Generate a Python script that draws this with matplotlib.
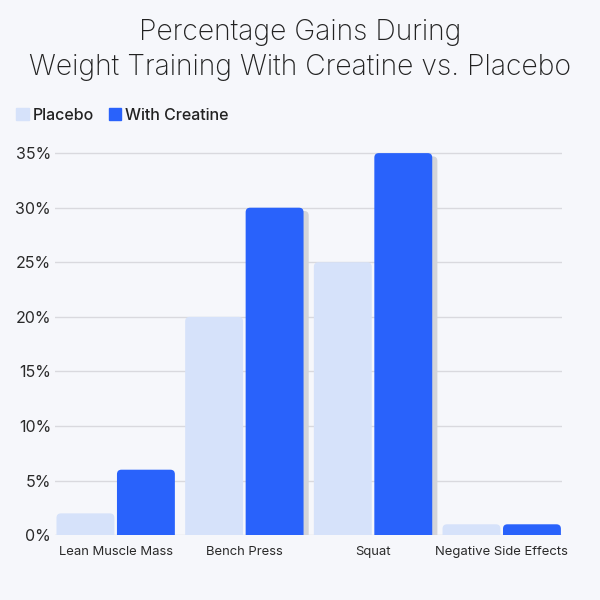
import matplotlib.pyplot as plt
from matplotlib.patches import FancyBboxPatch, Patch
import numpy as np

categories = ['Lean Muscle Mass', 'Bench Press', 'Squat', 'Negative Side Effects']
placebo = [2, 20, 25, 1]
creatine = [6, 30, 35, 1]
yticks = [0, 5, 10, 15, 20, 25, 30, 35]

bg = '#f6f7fb'
c_placebo = '#d6e2fa'
c_creatine = '#2962fb'

plt.rcParams['font.family'] = ['Inter', 'DejaVu Sans']

fig = plt.figure(figsize=(6, 6), dpi=100, facecolor=bg)
ax = fig.add_axes([0.092, 0.108, 0.845, 0.655], facecolor=bg)

x = np.arange(len(categories))
w = 0.45
off = 0.235
b1 = ax.bar(x - off, placebo, w, color=c_placebo, zorder=3)
b2 = ax.bar(x + off, creatine, w, color=c_creatine, zorder=4)

ax.set_xlim(-0.47, 3.47)
ax.set_ylim(0, 36)

# rounded tops: swap plain rectangles for rounded boxes (bottom hidden below 0)
asp = 11.8
r = 0.035
for bars, shadow in ((b1, False), (b2, True)):
    for i, rect in enumerate(bars):
        x0, wd, h = rect.get_x(), rect.get_width(), rect.get_height()
        rect.set_visible(False)
        if shadow and i in (1, 2):
            sh = FancyBboxPatch((x0 + r + 0.04, -3 + r * asp), wd - 2 * r, h + 3 - 2 * r * asp - 0.3,
                                boxstyle=f'round,pad={r}', mutation_aspect=asp,
                                fc='#d3d4d9', ec='none', zorder=rect.get_zorder() - 0.5)
            ax.add_patch(sh)
        p = FancyBboxPatch((x0 + r, -3 + r * asp), wd - 2 * r, h + 3 - 2 * r * asp,
                           boxstyle=f'round,pad={r}', mutation_aspect=asp,
                           fc=rect.get_facecolor(), ec='none', zorder=rect.get_zorder())
        ax.add_patch(p)

ax.set_yticks(yticks)
ax.set_yticklabels([f'{v}%' for v in yticks], fontsize=11.5, color='#2a2a2a')
ax.set_xticks(x)
ax.set_xticklabels(categories, fontsize=9.4, color='#2a2a2a')
ax.tick_params(length=0)
ax.tick_params(axis='y', pad=3)
ax.tick_params(axis='x', pad=8)
ax.grid(axis='y', color='#d9d9de', linewidth=1, zorder=0)
for s in ax.spines.values():
    s.set_visible(False)

fig.text(0.5, 0.946, 'Percentage Gains During', ha='center', va='center',
         fontsize=20.4, color='#222222', fontweight='light')
fig.text(0.5, 0.888, 'Weight Training With Creatine vs. Placebo', ha='center', va='center',
         fontsize=20.4, color='#222222', fontweight='light')

handles = [Patch(color=c_placebo, label='Placebo'), Patch(color=c_creatine, label='With Creatine')]
fig.legend(handles=handles, loc='center left', bbox_to_anchor=(0.027, 0.808), ncol=2,
           frameon=False, borderpad=0, borderaxespad=0, handlelength=0.8, handleheight=0.8,
           handletextpad=0.25, columnspacing=0.9,
           prop={'size': 11.5, 'weight': 'medium'}, labelcolor='#222222')

fig.savefig('out.png', dpi=100, facecolor=bg)
